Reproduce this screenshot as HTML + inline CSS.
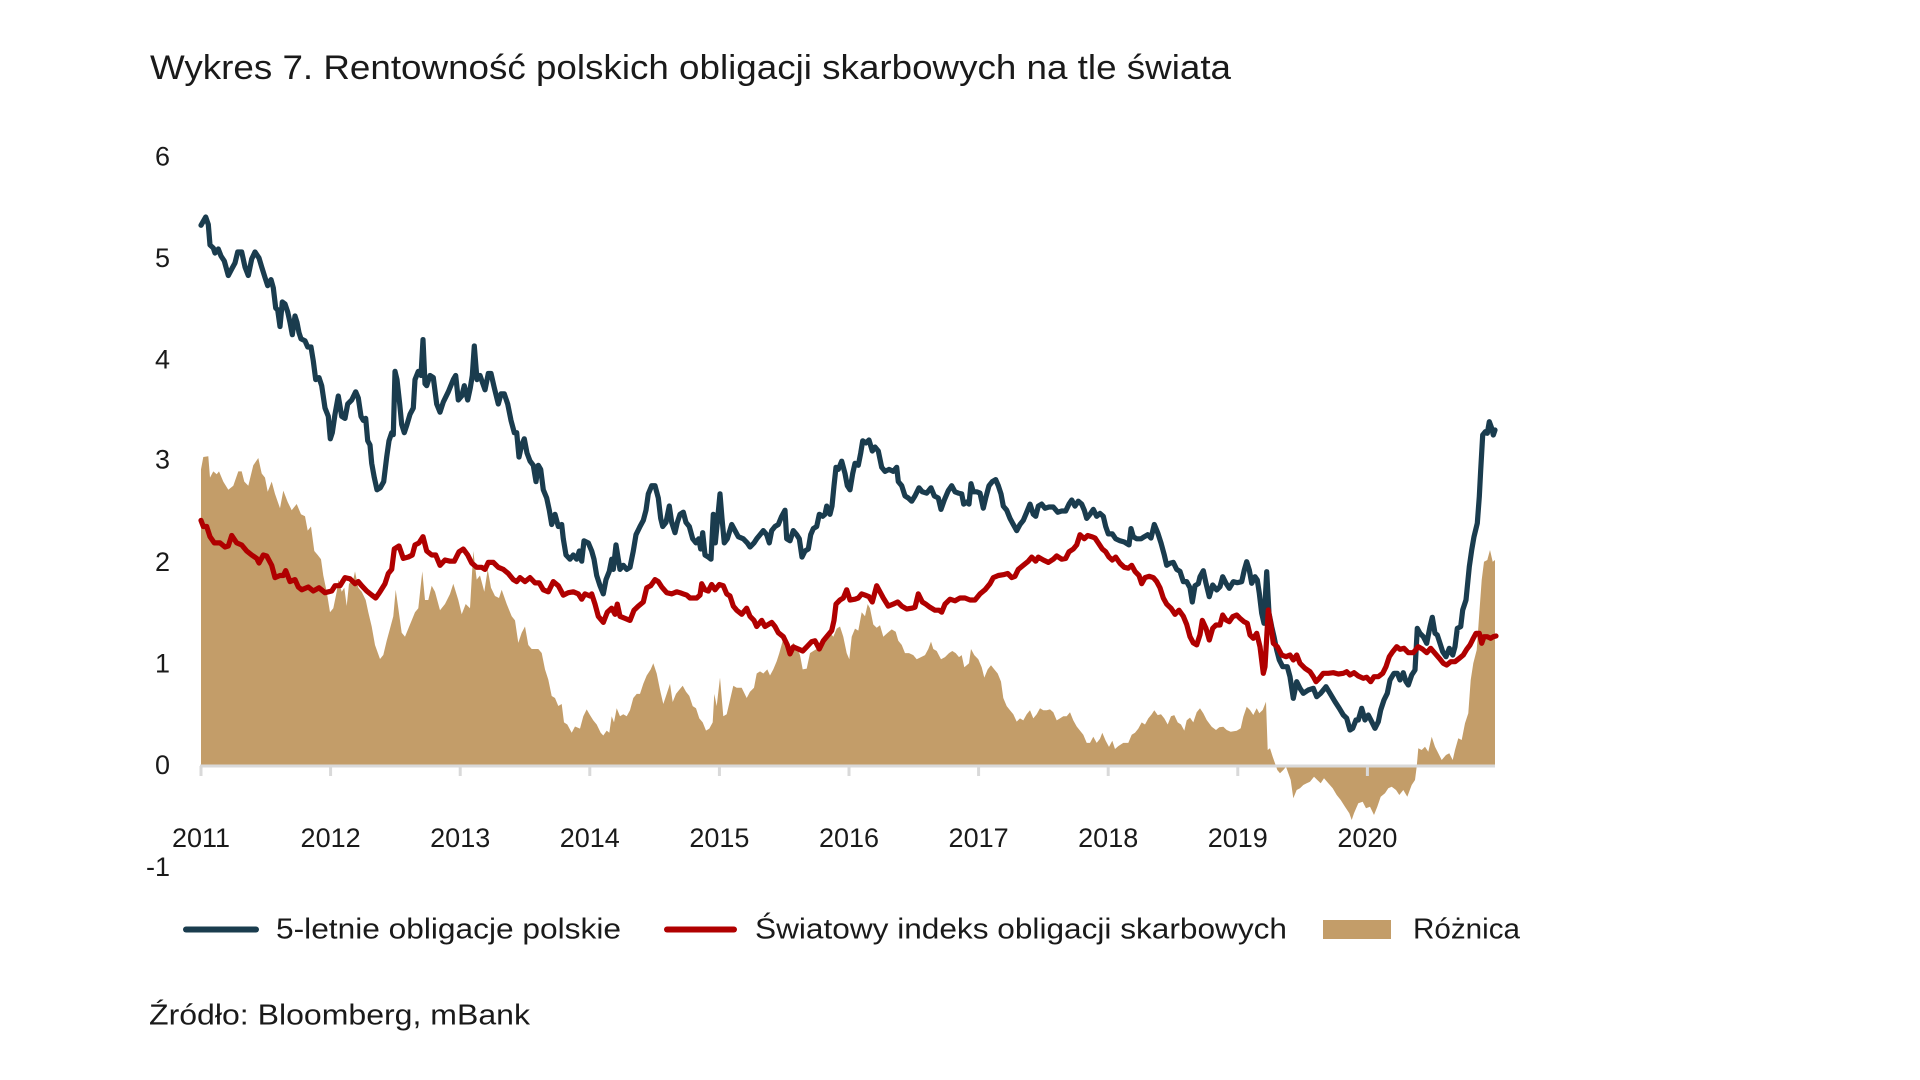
<!DOCTYPE html>
<html>
<head>
<meta charset="utf-8">
<style>
html,body{margin:0;padding:0;background:#ffffff;}
svg{display:block;}
text{font-family:"Liberation Sans",Arial,sans-serif;fill:#1a1a1a;}
</style>
</head>
<body>
<svg width="1920" height="1080" viewBox="0 0 1920 1080" xmlns="http://www.w3.org/2000/svg">
<rect x="0" y="0" width="1920" height="1080" fill="#ffffff"/>

<text x="150" y="79" font-size="34" textLength="1081" lengthAdjust="spacingAndGlyphs">Wykres 7. Rentowność polskich obligacji skarbowych na tle świata</text>

<!-- Y axis labels -->
<g font-size="27" text-anchor="end">
<text x="170" y="165.5">6</text>
<text x="170" y="267">5</text>
<text x="170" y="368.5">4</text>
<text x="170" y="468.5">3</text>
<text x="170" y="571">2</text>
<text x="170" y="672.5">1</text>
<text x="170" y="774">0</text>
<text x="170" y="876">-1</text>
</g>

<!-- Difference area -->
<path fill="#c39d69" stroke="none" d="M201,765 L201,469.4 203.3,457 208.3,456.3 210,477.6 213.3,471.4 216.7,474.3 219,471.4 223.3,481.6 228.3,489.8 233.3,485.7 238.3,471.4 241.7,471.4 244.3,481.6 248.3,485.7 253.3,465.3 258.3,458 261.7,473.5 265,477.6 267.7,491.8 271.7,481.6 275,493.9 280,508.2 283.3,490.6 287.7,502 291.7,510.2 296.7,504 301,514.3 305,516.3 307.7,530.6 311,526.5 314.3,551 317.7,555 321,559.2 323.3,575.5 326.7,591.8 330,612.2 333.3,608.2 336.7,591.8 338.3,579.6 341.7,591.8 344.3,587.8 346.7,606 349,583.7 353.3,579.6 355,571.4 358.3,587.8 361.7,591.8 365.7,600 368.3,612.2 371.7,626.5 375,645 380,659 383.3,655 386.7,640.8 390,628.6 393.3,616.3 395.7,589.8 398.3,608.2 401.7,632.7 405,636.7 408.3,628.6 411.7,620.4 415,612.2 418.3,608.2 422.3,571.4 425,600 428.3,600 431.7,585.7 435,591.8 440,610.2 445,604 450,594 453.3,583.7 458.3,600 461.7,614.3 465.7,604 470,608.2 473.3,551 476.7,579.6 480,575.5 484.3,591.8 487.7,569.4 491,587.8 495,596 499,598 501.7,589.8 506.7,604 511.7,616.3 515,620.4 518.3,642.9 521.7,632.7 525,626.5 528.3,645 531.7,649 535,649 538.3,649 541.7,653 545,669.4 548.3,679.6 551.7,696 555,698 558.3,706 561.7,704 564,722.4 567.3,724.5 571.7,732.7 575,726.5 580,728.6 583.3,716.3 586.7,709.4 590,715.1 593.3,720.4 596.7,724.5 600.7,732.7 603.3,735.5 606.7,730.6 609.3,732.7 611.7,716.3 614,722.4 616.7,708.2 620,716.3 623.3,714.3 626.7,716.3 630,710.2 633.3,698 636.7,693.9 640,693.9 643.3,683.7 646.7,675.5 650.7,669.4 653.3,663.3 656.7,673.5 660,689.8 663.3,704 666.7,693.9 670,683.7 672.7,702 676,693.9 679.3,689.8 682.7,685.7 686,691.8 689.3,695.9 692.7,706.1 696,708.2 699.3,718.4 702.7,722.4 706,730.6 709.3,728.6 712.7,722.4 714.3,693.9 716.7,706.1 720,677.6 723.3,716.3 726.7,714.3 730,700 733.3,685.7 736.7,687.8 741.7,687.8 746.7,698 750,691.8 754,687.8 756.7,673.5 760,671.4 763.3,673.5 767.3,669.4 770,675.5 773.3,669.4 776.7,661.2 779.3,653.1 782.7,640.8 786,644.9 790,649 793.3,642.9 796.7,646.9 800,655.1 802.7,669.4 806.7,668.6 810,653.1 813.3,651 816.7,649 820,644.9 823.3,640.8 826.7,638.8 830,632.7 833.3,636.7 836.7,628.6 840,626.5 843.3,636.7 846.7,653.1 849.3,659.2 851.7,636.7 855,628.6 858.3,630.6 861.7,612.2 865,616.3 867.7,604.1 870,608.2 873.3,624.5 876.7,627.8 880,625.3 883.3,636.7 887.7,632.7 891.7,629.4 895.7,631.8 898.3,640.8 901.7,644.9 905,653.1 909,653.1 913.3,655.1 916.7,659.2 921,657.1 925,655.1 928.3,649 931,641.6 933.3,649 936.7,651 941,659.2 945,657.1 949,653.1 952.3,651 955.7,653.1 959,657.1 961.7,655.1 964.3,667.3 966.7,665.3 969,663.3 971,649 974.3,655.1 978.3,659.2 981.7,667.3 984.3,677.6 987.7,669.4 991,665.3 994.3,669.4 997.7,673.5 1001,681.6 1003.3,698 1006.7,706.1 1010,710.2 1013.3,714.3 1016.7,721.6 1020,718.4 1023.3,720.4 1026.7,714.3 1030,710.2 1033.3,718.4 1036.7,714.3 1040,708.2 1043.3,710.2 1046.7,710.2 1050,709.4 1053.3,712.2 1056.7,720.4 1060,718.4 1063.3,716.3 1066.7,716.3 1070,712.2 1073.3,720.4 1076.7,726.5 1080,730.6 1083.3,734.7 1086.7,742.9 1090,742.9 1093.3,736.7 1096.7,742.9 1100,738.8 1102.3,732.7 1105.7,740.8 1109,746.9 1112.3,740.8 1115,749 1118.3,746.1 1123.3,742.9 1128.3,742.9 1131.7,734.7 1135,732.7 1138.3,728.6 1141.7,722.4 1145,724.5 1148.3,718.4 1151.7,714.3 1154.3,710.2 1157.7,715.1 1161,714.3 1164.3,718.4 1167.7,724.5 1171,716.3 1174.3,715.1 1177.7,722.4 1181,724.5 1184.3,730.6 1186.7,720.4 1190,717.6 1193.3,722.4 1196.7,712.2 1200,708.2 1203.3,713.3 1206.7,720 1211.7,726.7 1216,730 1219.3,727.3 1223.3,726.7 1226.7,730 1230.7,731.7 1236.7,730.7 1240.7,728.3 1243.3,716.7 1246.7,706.7 1250,710 1253.3,715 1256.7,708.3 1259.3,713.3 1262.7,710 1266,701.7 1267.7,750 1270,748.3 1272.7,756.7 1275,763.3 1277.3,770 1280,773.3 1283.3,770 1286,766.7 1288.3,773.3 1290.7,780 1293.3,798.3 1296.7,790 1300,788.3 1303.3,785 1306.7,783.3 1310,781.7 1314,776.7 1317.3,780 1320.7,783.3 1324,778.3 1328.3,783.3 1332.7,788.3 1336.7,795 1340.7,800 1345,806.7 1349.3,813.3 1351.7,820 1354,813.3 1358.3,803.3 1362.7,801.7 1366,808.3 1370,806.7 1374,815 1377.3,806.7 1380.7,796.7 1385,793.3 1388.3,788.3 1391.7,786.7 1396,790 1399.3,795 1403.3,790 1407.3,796.7 1411.7,785 1415,780 1416.7,766.7 1418.3,748.3 1421.7,750 1425,746.7 1428.3,751.7 1431.7,736.7 1435,746.7 1438.3,753.3 1441.7,760 1446,755 1449.3,753.3 1452.7,760 1455,750 1458.3,738.3 1461.7,740 1465,723.3 1468.3,713.3 1470.7,680 1473.3,663.3 1476.7,650 1479.3,613.3 1481.7,580 1484,561.7 1487.3,560 1490,550 1492.7,561.7 1495,560 L1495,765 Z"/>

<!-- X axis -->
<line x1="200" y1="766" x2="1495" y2="766" stroke="#d9d9d9" stroke-width="3"/>
<g stroke="#d9d9d9" stroke-width="3">
<line x1="201" y1="766" x2="201" y2="776"/>
<line x1="330.6" y1="766" x2="330.6" y2="776"/>
<line x1="460.2" y1="766" x2="460.2" y2="776"/>
<line x1="589.8" y1="766" x2="589.8" y2="776"/>
<line x1="719.4" y1="766" x2="719.4" y2="776"/>
<line x1="849" y1="766" x2="849" y2="776"/>
<line x1="978.6" y1="766" x2="978.6" y2="776"/>
<line x1="1108.2" y1="766" x2="1108.2" y2="776"/>
<line x1="1237.8" y1="766" x2="1237.8" y2="776"/>
<line x1="1367.4" y1="766" x2="1367.4" y2="776"/>
</g>

<!-- Year labels -->
<g font-size="27" text-anchor="middle">
<text x="201" y="847">2011</text>
<text x="330.6" y="847">2012</text>
<text x="460.2" y="847">2013</text>
<text x="589.8" y="847">2014</text>
<text x="719.4" y="847">2015</text>
<text x="849" y="847">2016</text>
<text x="978.6" y="847">2017</text>
<text x="1108.2" y="847">2018</text>
<text x="1237.8" y="847">2019</text>
<text x="1367.4" y="847">2020</text>
</g>

<!-- Polish 5Y -->
<polyline fill="none" stroke="#1a3c4e" stroke-width="5.2" stroke-linejoin="round" stroke-linecap="round" points="201,225.3 205.7,217 208.3,224.5 210,245 213.3,248 215,253 218.3,249 221,256 224.3,261 228.3,275.5 231.7,269 235,263 237.7,252 241.7,252 245,267 248.3,275.5 251.7,259 255,252 259,258 261.7,267 265,277.5 267.7,285.7 271,279.6 273.3,287.8 275.7,308 277.7,310 280,326.5 282.3,302 285,304 287.7,312 290,322.4 292.3,334.7 295,316 297,322.4 299,332.7 301,338.8 305,340.8 307.7,347 311,347 313.3,361 315.7,379.6 319,377.6 321.7,385.7 325,408 328.3,416.3 330.3,438.8 332.3,432.7 335,414.3 338.3,396 341.7,416.3 345,418.4 347.7,404 351.7,400 355.7,391.8 358.3,398 361,416.3 363.3,420.4 365.7,418.4 367.7,440.8 370,445 371.7,463.3 374.3,477.6 377,489.8 380.3,487.8 383.7,481.6 386.7,457 389,440.8 391.7,432.7 393.3,434.7 395,371.4 397,379.6 399.7,404 401.7,424.5 404.3,432.7 407,424.5 410,414.3 413.3,408 415,379.6 418.3,371.4 421,375.5 423,339.6 425,383.7 426.7,385.7 430,375.5 433.3,377.6 436.7,404 440,412.2 443.3,402 448.3,391.8 453.3,379.6 455.7,375.5 458.3,400 461.7,396 464.3,385.7 467.7,400 470.3,387.8 472.3,375.5 474.3,346 477,379.6 480,375.5 485,389.8 488.3,373.5 491,373.5 494.3,387.8 498.3,404 501,393.9 504.3,393.9 507.7,404 511,420.4 514.3,432.7 516.7,432.7 519,457 521.7,445 524.3,438.8 527,453 530,461 533.3,465.3 536,481.6 538.3,465.3 540.7,469.4 543.3,489.8 546.7,498 549.3,510.2 551.7,524.5 555,514.3 558.3,526.5 561.7,524.5 563.3,538.8 566,555 570,559.2 573.3,555 576.7,559.2 579.3,551 581.7,561.2 584,540.8 588.3,542.9 591.7,551 594,559.2 596.7,575.5 600,585.7 603.3,593.9 606,579.6 609.3,571.4 611.7,559.2 613.3,569.4 616,544.9 618.3,559.2 620,569.4 623.3,565.3 626.7,569.4 630,567.3 633.3,551 636,534.7 640,526.5 643.3,520.4 646,510.2 648.3,493.9 651.7,485.7 655,485.7 658.3,498 660.7,518.4 662.7,526.5 666,522.4 669.3,506 671.7,522.4 675,532.7 677.3,522.4 680,514.3 683.3,512.2 686,522.4 689.3,526.5 692.7,538.8 696,542.9 698.7,538.8 700.7,549 702.7,532.7 705,555 708.3,557.1 711,559.2 713.3,514.3 715.3,542.9 717.3,522.4 720,493.9 722,518.4 724.3,542.9 727.3,538.8 731.7,524.5 735,530.6 738.3,536.7 743.3,538.8 747.3,542.9 750,547 754,542.9 756.7,538.8 760,534.7 763.3,530.6 766.7,534.7 769.3,542.9 771.7,530.6 775,526.5 778.3,524.5 781.7,516.3 785,510.2 786.7,538.8 790,540.8 793.3,530.6 796.7,534.7 799.3,538.8 802,557.1 805,551 808.3,549 810.7,534.7 813.3,528.6 816.7,526.5 819.3,514.3 822.7,516.3 825,514.3 826.7,506.1 830,514.3 832,506.1 834,485.7 836,467.3 838.3,469.4 841.7,461.2 845,473.5 847.3,485.7 850,489.8 852.7,473.5 855,463.3 858.3,465.3 860.7,453.1 862.7,440.8 866,442.9 869,440 872.3,451 875,447 878.3,451 881.7,467.3 885,471.4 889,469.4 893.3,471.4 896.7,467.3 898.3,481.6 901.7,485.7 905,495.9 908.3,498 911.7,501.2 915,495.9 919,487.8 922.3,491.8 926.7,493.1 931,487.8 934.3,495.9 938.3,498 941,509.4 944.3,500 948.3,490.6 951.7,485.7 955,491.8 958.3,493.1 961.7,493.9 963.7,504.1 966.7,502 969,504.1 971,483.7 973.3,491.8 976.7,491.8 980,493.1 983.3,508.2 985.7,498 989,485.7 992.3,481.6 995.7,479.6 998.3,485.7 1001,493.9 1003.3,506.1 1006.7,510.2 1010,518.4 1013.3,524.5 1016.7,530.6 1020,524.5 1023.3,520.4 1026.7,512.2 1030,504.1 1033.3,514.3 1035.7,516.3 1038.3,506.1 1041.7,504.1 1045,508.2 1049,507 1053.3,507 1057.7,512.2 1061.7,511 1065.7,511 1069,504.1 1071.7,500 1075,506.1 1078.3,501.2 1081.7,504.1 1084.3,510.2 1086.7,518.4 1090,514.3 1093.3,509.4 1096.7,516.3 1100,513.5 1103.3,516.3 1105.7,526.5 1108.3,533.9 1112.3,533.9 1115.7,538.8 1120,540.8 1124.3,542 1129,544.9 1131,528.6 1133.3,536.7 1136.7,538.8 1141,538.8 1144.3,536.7 1147.7,534.7 1151,538 1154.3,524.5 1157.7,532.7 1161,542.9 1164.3,555.1 1166.7,565.3 1170,563.3 1173.3,562.4 1176.7,569.4 1180,571.4 1183.3,581.6 1186.7,581.6 1190,587.8 1192.3,602 1195,585.7 1198.3,583.7 1200,576.7 1203.3,570.7 1206,583.3 1209.3,596.7 1212.7,585 1216.7,590 1220,586.7 1222.7,576.7 1226,583.3 1229.3,588.3 1233.3,581.7 1237.3,582.7 1241.7,581.7 1244.3,570 1246.7,561.7 1249.3,570 1251.7,583.3 1255,576.7 1257.3,580 1259.3,593.3 1261.7,613.3 1264,623.3 1266.7,571.7 1269,613.3 1271.7,626.7 1274,636.7 1276.7,650 1279.3,660 1282.7,666.7 1287.3,666.7 1290,676.7 1293.3,698.3 1296.7,681.7 1300,688.3 1303.3,693.3 1308.3,690 1313.3,688.3 1316.7,696.7 1320.7,693.3 1326,686.7 1330,693.3 1335,701.7 1339.3,708.3 1343.3,715 1346.7,718.3 1350,730 1352.7,728.3 1356,720 1358.3,720 1361.7,708.3 1365,720 1368.3,715 1371.7,721.7 1375,728.3 1378.3,721.7 1380.7,710 1384,700 1387.3,693.3 1390,680 1394,673.3 1397.3,673.3 1400,680 1403.3,672.7 1406,681.7 1408.3,685 1411.7,675 1415,670 1417.3,628.3 1420,633.3 1423.3,636.7 1426.7,643.3 1430,626.7 1432.3,617.3 1435,633.3 1437.3,635 1440,643.3 1442.7,651.7 1446,656.7 1449.3,648.3 1452.7,655 1455,646.7 1457.3,628.3 1460.7,626.7 1462.7,610 1466,600 1469.3,566.7 1471.7,550 1474,536.7 1477.3,523.3 1479.3,496.7 1480.7,470 1482.7,435 1485.3,431.7 1487.3,433.3 1489.3,421.7 1491.7,428.3 1493.3,435 1495,430"/>

<!-- World index -->
<polyline fill="none" stroke="#b00000" stroke-width="5.2" stroke-linejoin="round" stroke-linecap="round" points="201,520.4 203.3,526.5 206.7,526.5 210,536.7 214.3,542.9 220,542.9 225,547 228.3,546 231.7,535.5 236.7,542.9 241.7,545 246.7,551 251.7,555 256.7,558.4 259,563 263.3,555 266.7,556 271.7,565.3 275,577.6 280,575.5 283.3,575.5 285.7,570.6 290,581.6 295,579.6 298.3,587 301.7,589.8 308.3,587 313.3,591 319,587.8 325,592.7 331.7,591 335,585.7 340,585.7 345,577.6 350,578.8 355,583.7 358.3,581.6 361.7,585.7 366.7,591 371.7,595 375.7,598 380,591.8 385,583.7 388.3,573.5 391.7,569.4 394.3,549 399,546 403.3,558.4 408.3,557 412.3,555 415,544.9 419,542.9 423,536.7 426.7,551 431.7,555 435.7,555 440,565.3 445,560 450,561.2 454.3,561.2 459,551.8 463.3,549 467.7,555 471.7,563 476.7,567.3 481.7,567.3 485,569.4 488.3,562.4 493.3,562.4 498.3,567.3 503.3,569.4 508.3,573.5 513.3,579.6 516.7,581.6 520,577.6 525,581.6 530,577.6 535,582.9 539.3,582.9 543.3,589.8 548.3,591.8 553.3,581.6 558.3,585.7 563.3,595.1 568.3,592.7 573.3,591.8 578.3,593.9 581.7,599.2 585,593.9 590,596 591.7,593.9 595,604.1 598.3,616.3 603.3,622.4 607.3,612.2 611.7,608.2 615,614.3 617.3,604.1 620,616.3 625,618.4 630,620.4 634,610.2 638.3,606.1 643.3,602 646.7,587.8 650.7,585.7 655,579.6 658.3,581.6 661.7,586.9 666.7,592.7 671.7,593.9 676.7,591.8 680,592.7 683.3,593.9 686.7,595.1 690,598 696.7,598 700,595.1 701.7,583.7 705,589.8 708.3,591 711.7,584.5 715,589.8 719.3,584.5 723.3,585.7 726.7,593.9 730,596 733.3,606.1 736.7,610.2 741.7,614.3 746.7,608.2 750,616.3 754,620.4 756.7,626.5 761.7,620.4 765,626.5 768.3,624.5 771.7,622.4 775,626.5 778.3,632.7 783.3,636.7 787.3,644.9 790,653.9 793.3,646.9 798.3,649 802.7,651 806.7,646.9 811.7,641.6 815,640.8 819.3,649 823.3,640.8 826.7,636.7 831.7,630.6 834,620.4 836,604.1 840,600 843.3,598 846.7,589.8 850,600 855,599.2 858.3,598 861.7,593.9 865,595.1 869,596.7 872.3,602 876.7,585.7 880,591.8 883.3,598 888.3,606.1 893.3,604.1 897.7,602 901.7,606.1 906.7,609 911.7,608.2 915,607.3 918.3,593.9 922.3,602 925.7,604.1 930,607.3 935,610.2 939,610.2 941.7,612.2 945,604.1 950,599.2 955,600.8 960,598 965,598 970,600 975,600 980,593.9 985,589.8 990,583.7 993.3,577.6 998.3,575.5 1003.3,574.7 1007.7,573.5 1011.7,577.6 1015,576.3 1018.3,569.4 1023.3,565.3 1028.3,561.2 1031.7,557.1 1035.7,561.2 1038.3,557.1 1043.3,560 1048.3,562.4 1053.3,559.2 1056.7,555.9 1061.7,559.2 1065.7,558.4 1069,551.8 1073.3,549 1076.7,544.9 1080,534.7 1084.3,538.8 1087.7,535.5 1091.7,536.7 1095,538 1098.3,542.9 1102.3,549 1105.7,551.8 1109,557.1 1112.3,560 1115.7,557.1 1120,563.3 1124.3,567.3 1128.3,568.2 1131.7,565.3 1135,571.4 1139,575.5 1141.7,583.7 1145,577.6 1149,576.3 1153.3,577.6 1156.7,581.6 1160,587.8 1163.3,598 1166.7,604.1 1171,608.2 1175,614.3 1179,610.2 1183.3,616.3 1186.7,624.5 1190,636.7 1193.3,642.9 1196.7,644.9 1200,634.7 1202.3,620.4 1206,628.3 1209.3,640 1212.7,628.3 1216,625 1220,625 1222.7,615 1226,620 1229.3,621.7 1232.7,616.7 1236.7,615 1240,618.3 1244,621.7 1247.3,623.3 1250,635 1253.3,638.3 1256.7,633.3 1260,646.7 1263.3,673.3 1265,666.7 1268.3,610 1270.7,623.3 1273.3,643.3 1277.3,646.7 1281.7,655 1286,656.7 1290,655 1293.3,660 1296.7,655 1300,663.3 1305,668.3 1310,671.7 1313.3,676.7 1316,681.7 1319.3,678.3 1323.3,673.3 1328.3,673.3 1333.3,672.7 1338.3,674 1343.3,673.3 1346.7,671.7 1350,675 1354,672.7 1358.3,676 1363.3,678.3 1366.7,677.3 1370.7,681.7 1374,676.7 1378.3,676.7 1382.7,673.3 1386,666.7 1389.3,656.7 1392.7,651.7 1396.7,646.7 1400,649.3 1404,648.3 1408.3,652.7 1413.3,652.7 1418.3,646.7 1422.7,649.3 1426.7,652.7 1430.7,648.3 1435,653.3 1439.3,658.3 1443.3,663.3 1446.7,665 1450.7,661.7 1455,661.7 1459.3,658.3 1463.3,655 1466.7,649.3 1470,645 1473.3,638.3 1476,633.3 1479.3,633.3 1481.7,643.3 1484,636.7 1487.3,636.7 1490.7,638.3 1493.3,636.7 1496,636"/>

<!-- Legend -->
<line x1="186" y1="929.5" x2="256" y2="929.5" stroke="#1a3c4e" stroke-width="6" stroke-linecap="round"/>
<text x="276" y="938.3" font-size="29" textLength="345" lengthAdjust="spacingAndGlyphs">5-letnie obligacje polskie</text>
<line x1="667" y1="929.5" x2="734" y2="929.5" stroke="#b00000" stroke-width="6" stroke-linecap="round"/>
<text x="755" y="938.3" font-size="29" textLength="532" lengthAdjust="spacingAndGlyphs">Światowy indeks obligacji skarbowych</text>
<rect x="1323" y="920" width="68" height="19" fill="#c39d69"/>
<text x="1413" y="938.3" font-size="29" textLength="107" lengthAdjust="spacingAndGlyphs">Różnica</text>

<!-- Source -->
<text x="149" y="1024.3" font-size="29" textLength="381" lengthAdjust="spacingAndGlyphs">Źródło: Bloomberg, mBank</text>
</svg>
</body>
</html>
